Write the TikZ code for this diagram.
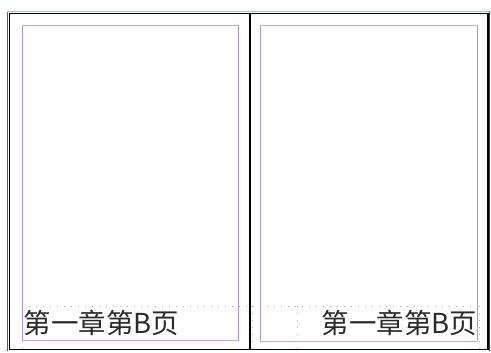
\documentclass[tikz,border=0pt]{standalone}
\usepackage{fontspec}
\newfontfamily\cjk{Noto Sans CJK SC}
\definecolor{guideblue}{HTML}{9A9AEE}
\definecolor{guidepink}{HTML}{D4A6D4}
\definecolor{framered}{HTML}{B03040}
\definecolor{dotgray}{HTML}{A8A8A8}
\definecolor{textgray}{HTML}{2A2A2A}
\tikzset{
  frameline/.style={black, line width=1.6pt},
  sideguide/.style={guideblue, line width=0.9pt},
  topguide/.style={guidepink, line width=0.9pt},
  dotguide/.style={dotgray, line width=1pt, dash pattern=on 1pt off 6pt},
  pagetext/.style={inner sep=0pt, text=textgray, font=\cjk\fontsize{27.5}{27.5}\selectfont}
}
\begin{document}
\begin{tikzpicture}[x=1pt,y=-1pt]
\useasboundingbox[fill=white] (0,0) rectangle (491,353);
% outer coloured edges
\draw[guidepink, line width=1pt] (8,12) -- (489.5,12);
\draw[framered, line width=1.5pt] (7.3,12) -- (7.3,350.5);
\draw[framered!70!black, line width=1.2pt] (489.8,12) -- (489.8,350.5);
% outer frame and spine
\draw[frameline] (9.5,13.5) rectangle (488,349.5);
\draw[black, line width=1.3pt] (250,13.5) -- (250,349.5);
% left page margins
\draw[sideguide] (22,25.5) -- (22,340.5);
\draw[sideguide] (238,25.5) -- (238,340.5);
\draw[topguide] (22,25.5) -- (238,25.5);
\draw[topguide] (22,340.5) -- (238,340.5);
% right page margins
\draw[sideguide] (260,25.5) -- (260,341);
\draw[sideguide] (477,25.5) -- (477,341);
\draw[topguide] (260,25.5) -- (477,25.5);
\draw[topguide] (260,341) -- (477,341);
% dotted text frames
\draw[dotguide] (22,306) -- (479,306);
\draw[dotguide] (252,306) -- (252,348);
\draw[dotguide] (297,306) -- (297,350);
\draw[dotguide] (479,306) -- (479,350);
\draw[dotguide] (22,306) -- (22,350);
% running heads
\node[pagetext, anchor=west] (lefttext) at (23.5,323) {第一章第B页};
\node[pagetext, anchor=east] (righttext) at (477.5,323) {第一章第B页};
\end{tikzpicture}
\end{document}
